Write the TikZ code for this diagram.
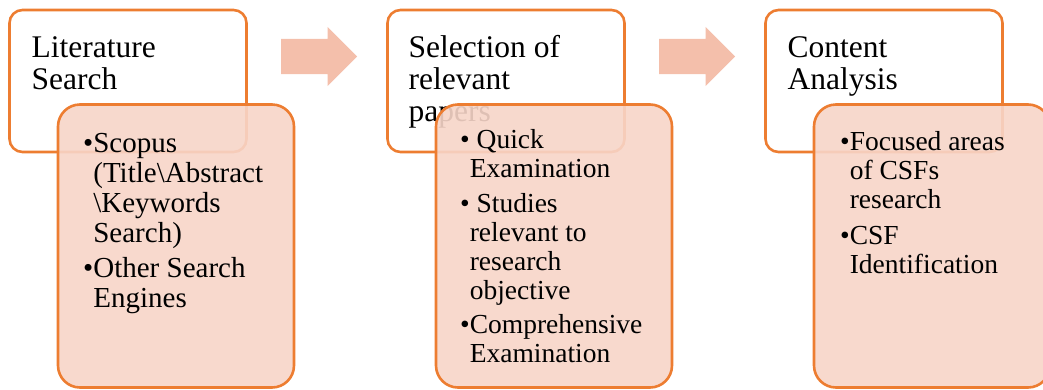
\documentclass[tikz,border=0pt]{standalone}
\usepackage{fontspec}
\setmainfont{Liberation Serif}
\usetikzlibrary{positioning,shapes.arrows}

\definecolor{accent}{RGB}{237,125,49}
\definecolor{detailfill}{RGB}{247,213,200}
\definecolor{arrowfill}{RGB}{244,191,171}

\newcommand{\headfont}{\fontsize{31.5}{32}\selectfont}
\newcommand{\pointfont}{\fontsize{29}{30}\selectfont}
\newcommand{\smallpointfont}{\fontsize{27.5}{29}\selectfont}

\begin{document}
\begin{tikzpicture}[node distance={378pt},
	stage/.style = {draw=accent, line width=2.6pt, rounded corners=13pt, fill=white, minimum width=237pt, minimum height=142pt, inner sep=0pt, outer sep=0pt},
	detail/.style = {draw=accent, line width=2.6pt, rounded corners=22pt, fill=detailfill, fill opacity=0.9, minimum width=236pt, minimum height=283pt, inner sep=0pt, outer sep=0pt},
	headtext/.style = {anchor=base west, inner sep=0pt, font=\headfont},
	pointtext/.style = {anchor=base west, inner sep=0pt},
	steparrow/.style = {single arrow, fill=arrowfill, anchor=tail, single arrow head extend=12pt, minimum height=76pt, inner xsep=0pt, inner ysep=17.5pt}]
			\useasboundingbox (0pt,0pt) rectangle (1043pt,-389pt);
			
			% literature search
			\node[stage] (b1) at (128pt,-81pt) {};
			\node[headtext] (h1) at ([xshift=22pt, yshift=-47pt]b1.north west) {\begin{tabular}[t]{@{}l@{}}Literature\\Search\end{tabular}};
			\node[detail] (d1) at ([xshift=48pt, yshift=-165pt]b1.center) {};
			\node[pointtext, font=\pointfont] (p1) at ([xshift=25pt, yshift=-48pt]d1.north west) {\begin{tabular}[t]{@{}l@{}l@{}}
				\textbullet & Scopus\\
				& (Title\textbackslash Abstract\\
				& \textbackslash Keywords\\
				& Search)\\[5pt]
				\textbullet & Other Search\\
				& Engines
			\end{tabular}};
			
			% selection of relevant papers
			\node[stage, right of = b1] (b2) {};
			\node[headtext] (h2) at ([xshift=21pt, yshift=-47pt]b2.north west) {\begin{tabular}[t]{@{}l@{}}Selection of\\relevant\\papers\end{tabular}};
			\node[detail] (d2) at ([xshift=48pt, yshift=-165pt]b2.center) {};
			\node[pointtext, font=\smallpointfont] (p2) at ([xshift=24pt, yshift=-44pt]d2.north west) {\begin{tabular}[t]{@{}l@{}l@{}}
				\textbullet & \ Quick\\
				& Examination\\[6pt]
				\textbullet & \ Studies\\
				& relevant to\\
				& research\\
				& objective\\[5pt]
				\textbullet & Comprehensive\\
				& Examination
			\end{tabular}};
			
			% content analysis
			\node[stage, right of = b2] (b3) {};
			\node[headtext] (h3) at ([xshift=22pt, yshift=-47pt]b3.north west) {\begin{tabular}[t]{@{}l@{}}Content\\Analysis\end{tabular}};
			\node[detail] (d3) at ([xshift=48pt, yshift=-165pt]b3.center) {};
			\node[pointtext, font=\smallpointfont] (p3) at ([xshift=26pt, yshift=-46pt]d3.north west) {\begin{tabular}[t]{@{}l@{}l@{}}
				\textbullet & Focused areas\\
				& of CSFs\\
				& research\\[7pt]
				\textbullet & CSF\\
				& Identification
			\end{tabular}};
			
			% arrows between the stages
			\node[steparrow] (a1) at ([xshift=34.5pt, yshift=24.5pt]b1.east) {};
			\node[steparrow] (a2) at ([xshift=34.5pt, yshift=24.5pt]b2.east) {};
		\end{tikzpicture}
\end{document}
